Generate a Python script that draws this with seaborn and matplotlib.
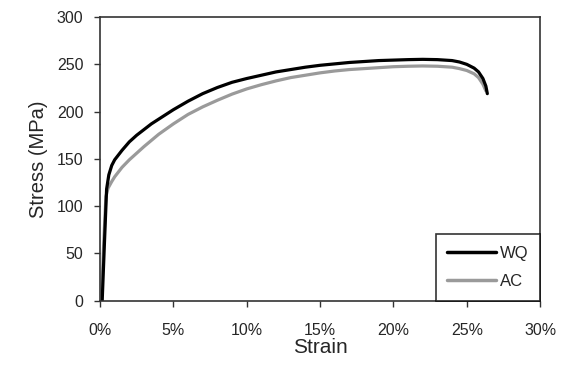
import matplotlib
matplotlib.use("Agg")
import matplotlib.pyplot as plt
import matplotlib.ticker as mtick
import pandas as pd
import seaborn as sns

# strain (fraction) and stress (MPa)
wq_strain = [0.0015, 0.003, 0.0045, 0.006, 0.008, 0.01, 0.015, 0.02, 0.025, 0.03,
             0.035, 0.04, 0.05, 0.06, 0.07, 0.08, 0.09, 0.10, 0.11, 0.12,
             0.13, 0.14, 0.15, 0.16, 0.17, 0.18, 0.19, 0.20, 0.21, 0.22,
             0.23, 0.24, 0.245, 0.25, 0.255, 0.258, 0.261, 0.263, 0.264]
wq_stress = [0, 60, 118, 133, 143, 149, 159, 168, 175, 181,
             187, 192, 202, 211, 219, 225.5, 231, 235, 238.5, 242,
             244.5, 247, 249, 250.5, 252, 253, 254, 254.5, 255, 255.3,
             255, 254, 252.5, 250, 246, 242, 235, 227, 219]

ac_strain = [0.001, 0.0025, 0.004, 0.0055, 0.008, 0.01, 0.015, 0.02, 0.025, 0.03,
             0.04, 0.05, 0.06, 0.07, 0.08, 0.09, 0.10, 0.11, 0.12, 0.13,
             0.14, 0.15, 0.16, 0.17, 0.18, 0.19, 0.20, 0.21, 0.22, 0.23,
             0.24, 0.245, 0.25, 0.255, 0.258, 0.261, 0.263]
ac_stress = [0, 60, 110, 119, 126, 131, 141, 149, 156, 163,
             176, 187, 197, 205, 212, 218.5, 224, 228.5, 232.5, 236,
             238.5, 241, 243, 244.5, 245.5, 246.5, 247.5, 248, 248.3, 248,
             247, 245.5, 243.5, 240, 236, 229, 222]

x_ticks = [0, 0.05, 0.10, 0.15, 0.20, 0.25, 0.30]
y_ticks = [0, 50, 100, 150, 200, 250, 300]

sns.set_theme(style="ticks")
plt.rcParams['font.family'] = ['Liberation Sans', 'DejaVu Sans']

df = pd.concat([
    pd.DataFrame({'Strain': wq_strain, 'Stress': wq_stress, 'Sample': 'WQ'}),
    pd.DataFrame({'Strain': ac_strain, 'Stress': ac_stress, 'Sample': 'AC'}),
])

fig = plt.figure(figsize=(5.65, 3.72), dpi=100)
ax = fig.add_axes([0.177, 0.192, 0.779, 0.762])

# draw AC first so WQ sits on top
sns.lineplot(data=df[df['Sample'] == 'AC'], x='Strain', y='Stress', color='#9a9a9a',
             linewidth=2.3, ax=ax, label='AC', estimator=None)
sns.lineplot(data=df[df['Sample'] == 'WQ'], x='Strain', y='Stress', color='black',
             linewidth=2.3, ax=ax, label='WQ', estimator=None)

ax.set_xlim(0, 0.30)
ax.set_ylim(0, 300)
ax.set_xticks(x_ticks)
ax.set_yticks(y_ticks)
ax.xaxis.set_major_formatter(mtick.PercentFormatter(1.0, decimals=0))
ax.tick_params(axis='both', labelsize=11.5, length=4, width=1, color='#333333', pad=8)
ax.tick_params(axis='x', pad=12)
for s in ax.spines.values():
    s.set_color('#333333')
    s.set_linewidth(1.2)

ax.set_xlabel('Strain', fontsize=15, labelpad=0)
ax.set_ylabel('Stress (MPa)', fontsize=14.5, labelpad=6)

handles, labels = ax.get_legend_handles_labels()
leg = ax.legend(handles[::-1], labels[::-1], loc='lower right', fontsize=12,
                frameon=True, fancybox=False, edgecolor='black', borderaxespad=0,
                handlelength=2.9, handletextpad=0.25, labelspacing=0.8,
                borderpad=0.7)
leg.get_frame().set_linewidth(1.2)
for line in leg.get_lines():
    line.set_linewidth(2.5)

fig.savefig('out.png', dpi=100)
